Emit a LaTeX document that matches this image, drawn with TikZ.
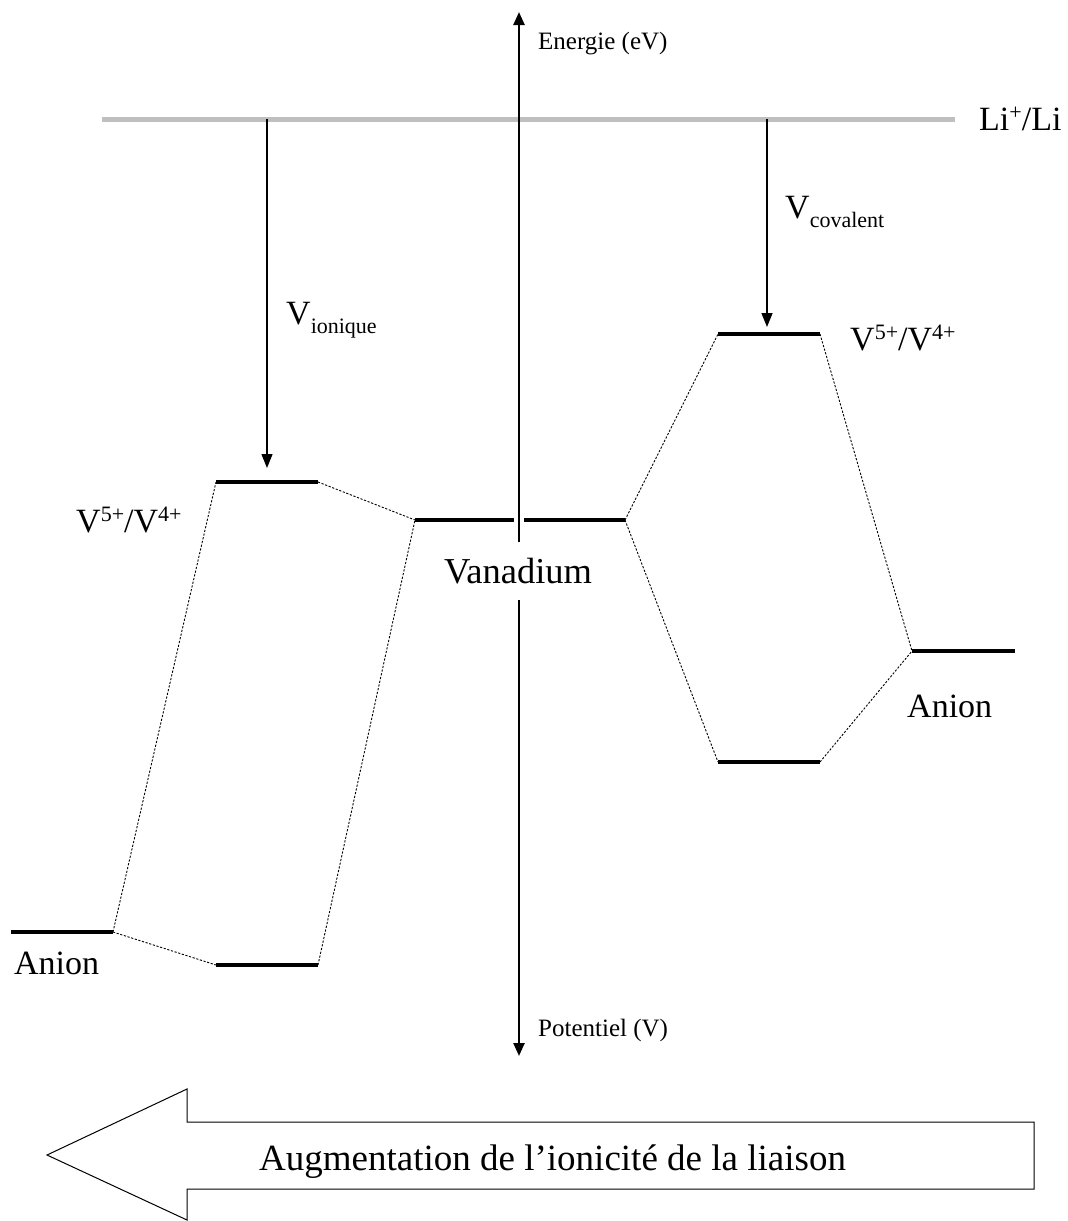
\documentclass[tikz,border=0pt]{standalone}
\usepackage{fontspec}
\setmainfont{Liberation Serif}
\usetikzlibrary{arrows.meta}
\newcommand{\myup}[1]{\raisebox{0.3em}{\fontsize{22}{22}\selectfont #1}}
\newcommand{\mydown}[1]{\raisebox{-0.27em}{\fontsize{22}{22}\selectfont #1}}
\begin{document}
\begin{tikzpicture}[x=1pt,y=-1pt,
  level/.style={line width=4.5pt},
  corr/.style={line width=0.9pt,dash pattern=on 2.2pt off 1.6pt},
  axisline/.style={line width=2.4pt,-{Triangle[length=13pt,width=11pt]}},
  potarrow/.style={line width=1.4pt,-{Triangle[length=14pt,width=11pt]}},
  big/.style={font=\fontsize{34}{40}\selectfont,inner sep=0pt},
  small/.style={font=\fontsize{25}{30}\selectfont,inner sep=0pt}]
\useasboundingbox (0,0) rectangle (1068,1221);
% reference Li+/Li
\coordinate (gL) at (102,119);
\coordinate (gR) at (955,119);
\draw[line width=5pt,black!25] (gL) -- (gR);
% axis
\coordinate (axT) at (519,12);
\coordinate (axM) at (519,560);
\coordinate (axD) at (519,1056);
\draw[axisline] (axM) -- (axT);
\draw[axisline] (axM) -- (axD);
% level coordinates
\coordinate (aL1) at (11,932);  \coordinate (aL2) at (113,932);
\coordinate (uL1) at (216,482); \coordinate (uL2) at (318,482);
\coordinate (dL1) at (216,965); \coordinate (dL2) at (318,965);
\coordinate (v1) at (415,520);  \coordinate (v2) at (514,520);
\coordinate (v3) at (524,520);  \coordinate (v4) at (625,520);
\coordinate (uR1) at (718,334); \coordinate (uR2) at (820,334);
\coordinate (dR1) at (718,762); \coordinate (dR2) at (820,762);
\coordinate (aR1) at (912,651); \coordinate (aR2) at (1015,651);
\foreach \a/\b in {aL1/aL2,uL1/uL2,dL1/dL2,v1/v2,v3/v4,uR1/uR2,dR1/dR2,aR1/aR2}
  \draw[level] (\a) -- (\b);
% correlation lines
\draw[corr] (aL2) -- (uL1);
\draw[corr] (aL2) -- (dL1);
\draw[corr] (uL2) -- (v1);
\draw[corr] (dL2) -- (v1);
\draw[corr] (v4) -- (uR1);
\draw[corr] (v4) -- (dR1);
\draw[corr] (uR2) -- (aR1);
\draw[corr] (dR2) -- (aR1);
% potential arrows
\coordinate (ionS) at (267,119); \coordinate (ionE) at (267,468);
\coordinate (covS) at (767,119); \coordinate (covE) at (767,327);
\draw[potarrow] (ionS) -- (ionE);
\draw[potarrow] (covS) -- (covE);
% labels
\node[small,anchor=base west] (energie) at (538,49) {Energie (eV)};
\node[small,anchor=base west] (potentiel) at (538,1036) {Potentiel (V)};
\node[big,anchor=base west] (li) at (979,130) {Li\myup{+}/Li};
\node[big,anchor=base west] (vion) at (286,324) {V\mydown{ionique}};
\node[big,anchor=base west] (vcov) at (785,218) {V\mydown{covalent}};
\node[big,anchor=base west] (vL) at (76,532) {V\myup{5+}/V\myup{4+}};
\node[big,anchor=base west] (vR) at (850,350) {V\myup{5+}/V\myup{4+}};
\node[big,font=\fontsize{36.5}{40}\selectfont,anchor=base,fill=white,inner xsep=4pt,inner ysep=16pt] (van) at (518,583) {Vanadium};
\node[big,anchor=base west] (anL) at (14,974) {Anion};
\node[big,anchor=base west] (anR) at (907,717) {Anion};
% big arrow
\coordinate (t) at (47,1155);
\coordinate (h1) at (187,1089);
\coordinate (h2) at (187,1122);
\coordinate (r1) at (1034,1122);
\coordinate (r2) at (1034,1189);
\coordinate (h3) at (187,1189);
\coordinate (h4) at (187,1220);
\draw[line width=1pt,line join=miter] (t) -- (h1) -- (h2) -- (r1) -- (r2) -- (h3) -- (h4) -- cycle;
\node[big,font=\fontsize{37}{40}\selectfont,anchor=base west] (aug) at (259,1170) {Augmentation de l’ionicité de la liaison};
\end{tikzpicture}
\end{document}
